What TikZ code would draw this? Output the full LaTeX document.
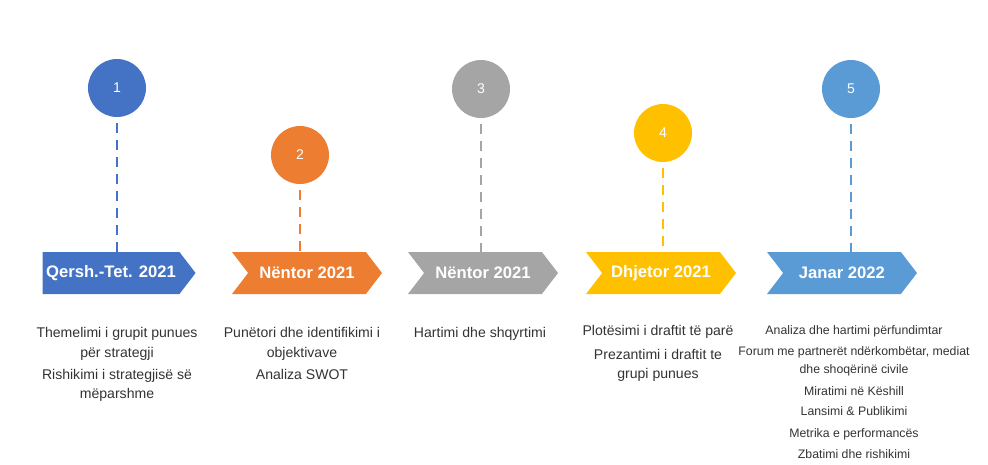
\documentclass[tikz,border=0pt]{standalone}
\usepackage{fontspec}
\setmainfont{Liberation Sans}
\usepackage{xcolor}
\usepackage{tikz}
\usetikzlibrary{shapes.symbols}

\definecolor{stepblue}{HTML}{4472C4}
\definecolor{steporange}{HTML}{ED7D31}
\definecolor{stepgray}{HTML}{A5A5A5}
\definecolor{stepgold}{HTML}{FFC000}
\definecolor{steplight}{HTML}{5B9BD5}
\definecolor{bodytext}{HTML}{333333}

\begin{document}
\begin{tikzpicture}[
    x=0.03cm, y=0.03cm,
    stage/.style={circle, fill=#1, minimum size=1.74cm, inner sep=0pt, text=white, font=\fontsize{12}{14}\selectfont},
    period/.style={signal, signal to=east, signal from=west, signal pointer angle=105, fill=#1, minimum width=4.5cm, minimum height=1.26cm, inner sep=0pt, text=white, font=\fontsize{14.2}{16}\selectfont\bfseries},
    link/.style={draw=#1, line width=2.5pt, dash pattern=on 8.5pt off 6pt, shorten <=5pt},
    notes/.style={align=center, anchor=north, inner sep=0pt, text=bodytext, font=\fontsize{12}{16.8}\selectfont}
]
    \useasboundingbox (0,0) rectangle (988,-464);
    \node[stage=stepblue] (c1) at (117,-88) {1};
    \node[stage=steporange] (c2) at (300,-155) {2};
    \node[stage=stepgray] (c3) at (481,-89) {3};
    \node[stage=stepgold] (c4) at (663,-133) {4};
    \node[stage=steplight] (c5) at (851,-89) {5};
    \node[period=stepblue, signal from=nowhere, minimum width=4.59cm] (a1) at (111,-273) {Qersh.-Tet. 2021};
    \node[period=steporange] (a2) at (307,-273) {Nëntor 2021};
    \node[period=stepgray] (a3) at (483,-273) {Nëntor 2021};
    \node[period=stepgold] (a4) at (661,-273) {Dhjetor 2021};
    \node[period=steplight] (a5) at (842,-273) {Janar 2022};
    \draw[link=stepblue] (c1) -- (c1 |- a1.north);
    \draw[link=steporange] (c2) -- (c2 |- a2.north);
    \draw[link=stepgray] (c3) -- (c3 |- a3.north);
    \draw[link=stepgold] (c4) -- (c4 |- a4.north);
    \draw[link=steplight] (c5) -- (c5 |- a5.north);
    \node[notes] (n1) at (117,-327) {Themelimi i grupit punues\\për strategji\\[2pt]Rishikimi i strategjisë së\\mëparshme};
    \node[notes] (n2) at (302,-327) {Punëtori dhe identifikimi i\\objektivave\\[2pt]Analiza SWOT};
    \node[notes] (n3) at (480,-327) {Hartimi dhe shqyrtimi};
    \node[notes] (n4) at (658,-325) {Plotësimi i draftit të parë\\[3.5pt]Prezantimi i draftit te\\grupi punues};
    \node[notes, font=\fontsize{10.5}{15.2}\selectfont] (n5) at (854,-325) {Analiza dhe hartimi përfundimtar\\[3.2pt]Forum me partnerët ndërkombëtar, mediat\\dhe shoqërinë civile\\[3.2pt]Miratimi në Këshill\\[2.4pt]Lansimi \& Publikimi\\[3.2pt]Metrika e performancës\\[3.2pt]Zbatimi dhe rishikimi};
\end{tikzpicture}
\end{document}
